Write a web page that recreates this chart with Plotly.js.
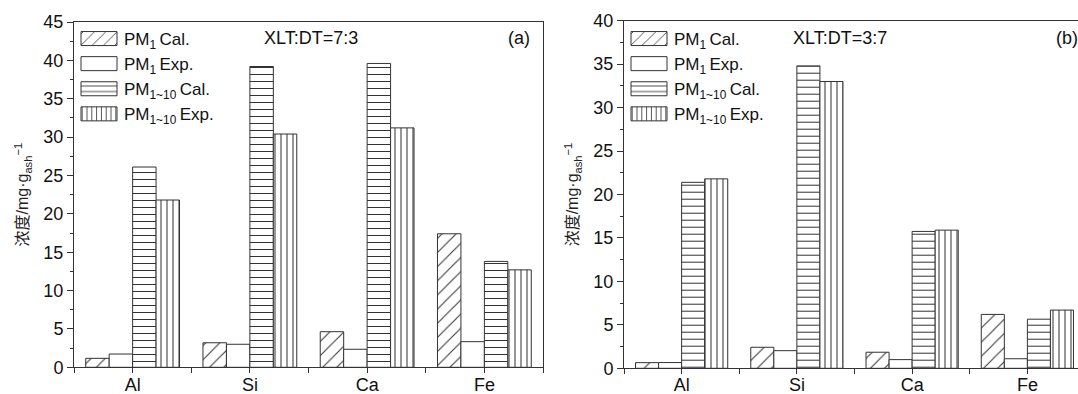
<!DOCTYPE html>
<html>
<head>
<meta charset="utf-8">
<script src="https://cdn.plot.ly/plotly-3.0.1.min.js"></script>
<style>html,body{margin:0;padding:0;background:#fff;}</style>
</head>
<body>
<div id="chart" style="width:1078px;height:394px;"></div>
<script>
// ---- data ----
const categories = ['Al', 'Si', 'Ca', 'Fe'];
const seriesNames = ['PM<sub>1</sub>\u2009Cal.', 'PM<sub>1</sub>\u2009Exp.', 'PM<sub>1~10</sub>\u2009Cal.', 'PM<sub>1~10</sub>\u2009Exp.'];
// panel (a) XLT:DT=7:3
const a_pm1Cal   = [1.17, 3.2, 4.64, 17.4];
const a_pm1Exp   = [1.73, 3.0, 2.35, 3.34];
const a_pm110Cal = [26.1, 39.2, 39.6, 13.8];
const a_pm110Exp = [21.8, 30.4, 31.2, 12.7];
// panel (b) XLT:DT=3:7
const b_pm1Cal   = [0.65, 2.42, 1.85, 6.2];
const b_pm1Exp   = [0.66, 2.03, 1.0, 1.1];
const b_pm110Cal = [21.4, 34.8, 15.75, 5.65];
const b_pm110Exp = [21.8, 33.0, 15.9, 6.7];
const yTitle = '浓度/mg·g<sub>ash</sub><sup>−1</sup>';

// ---- styling ----
const W = 1078, H = 394;
const LINE = '#333';
const FONT = '"Liberation Sans", Arial, "Noto Sans CJK SC", sans-serif';
const patterns = [
  {shape: '/', size: 10, solidity: 0.1},
  {shape: '', size: 8, solidity: 0.1},
  {shape: '-', size: 7, solidity: 0.15},
  {shape: '|', size: 6, solidity: 0.17}
];
const xpos = categories.map((c, i) => i + 1);

function makeTraces(vals, xa, ya, legend) {
  return vals.map((v, k) => ({
    type: 'bar',
    name: seriesNames[k],
    x: xpos,
    y: v,
    xaxis: xa, yaxis: ya,
    legend: legend,
    marker: {
      color: '#ffffff',
      line: {color: LINE, width: 1},
      pattern: Object.assign({fgcolor: LINE, bgcolor: '#ffffff', fillmode: 'replace'}, patterns[k])
    },
    hoverinfo: 'skip'
  }));
}

const data = [
  ...makeTraces([a_pm1Cal, a_pm1Exp, a_pm110Cal, a_pm110Exp], 'x', 'y', 'legend'),
  ...makeTraces([b_pm1Cal, b_pm1Exp, b_pm110Cal, b_pm110Exp], 'x2', 'y2', 'legend2')
];

// category boundaries for the minor ticks
const boundaryVals = [0.5, ...xpos.map(v => v + 0.5)];

const xBase = {
  tickmode: 'array', tickvals: xpos, ticktext: categories,
  ticks: 'outside', ticklen: 5, tickwidth: 1, tickcolor: LINE,
  minor: {tickmode: 'array', tickvals: boundaryVals, ticks: 'outside', ticklen: 5, tickwidth: 1, tickcolor: LINE, showgrid: false},
  showline: true, linecolor: LINE, linewidth: 1, mirror: true,
  showgrid: false, zeroline: false, automargin: false,
  tickfont: {size: 18, color: '#111'}
};
const yBase = {
  ticks: 'outside', ticklen: 6, tickwidth: 1, tickcolor: LINE, dtick: 5,
  minor: {dtick: 2.5, ticks: 'outside', ticklen: 3, tickwidth: 1, tickcolor: LINE, showgrid: false},
  showline: true, linecolor: LINE, linewidth: 1,
  showgrid: false, zeroline: false, automargin: false,
  tickfont: {size: 18, color: '#111'},
  title: {text: yTitle, font: {size: 16, color: '#222'}, standoff: 10}
};

const legBase = {
  xanchor: 'left', yanchor: 'top', bgcolor: 'rgba(0,0,0,0)', borderwidth: 0,
  font: {size: 17, color: '#111'}, itemwidth: 40, tracegroupgap: 0, itemclick: false
};

const layout = {
  width: W, height: H,
  margin: {l: 0, r: 0, t: 0, b: 0},
  paper_bgcolor: '#fff', plot_bgcolor: '#fff',
  font: {family: FONT, size: 18, color: '#111'},
  barmode: 'group', bargap: 0.2, bargroupgap: 0,
  showlegend: true,
  xaxis: Object.assign({}, xBase, {domain: [74 / W, 543 / W], range: [0.5, 4.5], anchor: 'y', ticklabelstandoff: -4}),
  yaxis: Object.assign({}, yBase, {domain: [(H - 367.3) / H, (H - 22) / H], range: [0, 45], anchor: 'x', mirror: true}),
  xaxis2: Object.assign({}, xBase, {domain: [624 / W, 1], range: [0.5, 4.5 - 7 / 115.2], anchor: 'y2', ticklabelstandoff: -5}),
  yaxis2: Object.assign({}, yBase, {domain: [(H - 368.3) / H, (H - 20.7) / H], range: [0, 40], anchor: 'x2', mirror: false}),
  legend: Object.assign({}, legBase, {x: 74 / W, y: 1 - 21 / H}),
  legend2: Object.assign({}, legBase, {x: 624 / W, y: 1 - 21 / H}),
  annotations: [
    {text: 'XLT:DT=7:3', x: 311 / W, y: 1 - 38 / H, xref: 'paper', yref: 'paper', showarrow: false, xanchor: 'center', yanchor: 'middle', font: {size: 18, color: '#111'}},
    {text: '(a)', x: 519 / W, y: 1 - 38 / H, xref: 'paper', yref: 'paper', showarrow: false, xanchor: 'center', yanchor: 'middle', font: {size: 18, color: '#111'}},
    {text: 'XLT:DT=3:7', x: 840 / W, y: 1 - 38 / H, xref: 'paper', yref: 'paper', showarrow: false, xanchor: 'center', yanchor: 'middle', font: {size: 18, color: '#111'}},
    {text: '(b)', x: 1067 / W, y: 1 - 38 / H, xref: 'paper', yref: 'paper', showarrow: false, xanchor: 'center', yanchor: 'middle', font: {size: 18, color: '#111'}}
  ]
};

const gd = document.getElementById('chart');
Plotly.newPlot(gd, data, layout, {staticPlot: true, displayModeBar: false}).then(() => {
  gd.querySelectorAll('.legendpoints path').forEach(p => {
    p.setAttribute('d', 'M18,7H-18V-7H18Z');
  });
});
</script>
</body>
</html>
